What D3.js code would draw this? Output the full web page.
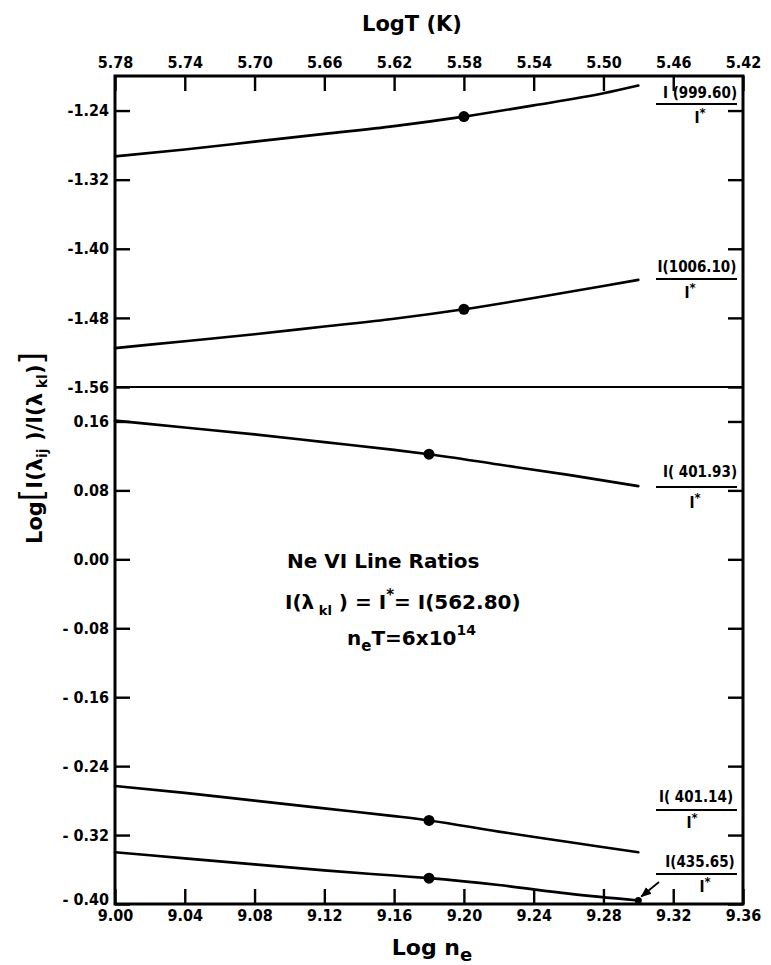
<!DOCTYPE html>
<html><head><meta charset="utf-8">
<script src="https://cdn.jsdelivr.net/npm/d3@7"></script>
<style>body{margin:0;background:#fff}svg{display:block;background:#fff}</style>
</head><body><svg id="c" width="771" height="965"></svg>
<script>
// ---- axis ticks ----
const logNeTicks = [9.00, 9.04, 9.08, 9.12, 9.16, 9.20, 9.24, 9.28, 9.32, 9.36];
const logNeTickLabels = ["9.00","9.04","9.08","9.12","9.16","9.20","9.24","9.28","9.32","9.36"];
const logTTicks = [5.78, 5.74, 5.70, 5.66, 5.62, 5.58, 5.54, 5.50, 5.46, 5.42];
const logTTickLabels = ["5.78","5.74","5.70","5.66","5.62","5.58","5.54","5.50","5.46","5.42"];
const upperTicks = [-1.24, -1.32, -1.40, -1.48, -1.56];
const upperTickLabels = ["-1.24","-1.32","-1.40","-1.48","-1.56"];
const lowerTicks = [0.16, 0.08, 0.00, -0.08, -0.16, -0.24, -0.32, -0.40];
const lowerTickLabels = ["0.16","0.08","0.00","- 0.08","- 0.16","- 0.24","- 0.32","- 0.40"];

// ---- series (log n_e, log ratio) ----
const seriesNames = ["999.60", "1006.10", "401.93", "401.14", "435.65"];
const seriesPanel = ["upper", "upper", "lower", "lower", "lower"];
const logNe999 = [9.00, 9.04, 9.08, 9.12, 9.16, 9.20, 9.24, 9.28, 9.30];
const ratio999 = [-1.293, -1.285, -1.276, -1.267, -1.258, -1.247, -1.234, -1.220, -1.211];
const logNe1006 = [9.00, 9.04, 9.08, 9.12, 9.16, 9.20, 9.24, 9.28, 9.30];
const ratio1006 = [-1.515, -1.507, -1.499, -1.490, -1.481, -1.470, -1.457, -1.443, -1.436];
const logNe40193 = [9.00, 9.04, 9.08, 9.12, 9.16, 9.18, 9.22, 9.26, 9.30];
const ratio40193 = [0.161, 0.153, 0.145, 0.136, 0.127, 0.122, 0.110, 0.098, 0.085];
const logNe40114 = [9.00, 9.04, 9.08, 9.12, 9.16, 9.18, 9.22, 9.26, 9.30];
const ratio40114 = [-0.263, -0.271, -0.280, -0.289, -0.298, -0.303, -0.316, -0.328, -0.340];
const logNe43565 = [9.00, 9.04, 9.08, 9.12, 9.16, 9.18, 9.22, 9.26, 9.30];
const ratio43565 = [-0.340, -0.347, -0.354, -0.361, -0.367, -0.370, -0.378, -0.388, -0.396];
const markerLogNe = [9.20, 9.20, 9.18, 9.18, 9.18];
const markerRatio = [-1.247, -1.470, 0.122, -0.303, -0.370];

const seriesX = [logNe999, logNe1006, logNe40193, logNe40114, logNe43565];
const seriesY = [ratio999, ratio1006, ratio40193, ratio40114, ratio43565];

// ---- layout ----
const L = 115, R = 743, T = 76, B = 904, BRK = 387;
const svg = d3.select("#c");
const FONT = "'DejaVu Sans Condensed','DejaVu Sans',sans-serif";

const x = d3.scaleLinear().domain([9.00, 9.36]).range([L, R]);
const xT = d3.scaleLinear().domain([5.78, 5.42]).range([L, R]);
const yU = d3.scaleLinear().domain([-1.56, -1.20]).range([BRK, T]);
const yL = d3.scaleLinear().domain([-0.40, 0.20]).range([B, BRK]);
const yOf = p => p === "upper" ? yU : yL;

function styleAxis(g) {
  g.select(".domain").remove();
  g.selectAll(".tick line").attr("stroke", "#000").attr("stroke-width", 2.4);
  g.selectAll(".tick text").attr("fill", "#000").attr("font-family", FONT)
    .attr("font-weight", "bold").attr("font-size", 16);
}

// bottom axis
svg.append("g").attr("transform", `translate(0,${B})`)
  .call(d3.axisBottom(x).tickValues(logNeTicks).tickSize(-15).tickPadding(6)
    .tickFormat((d, i) => logNeTickLabels[i]))
  .call(styleAxis);
// top axis
svg.append("g").attr("transform", `translate(0,${T})`)
  .call(d3.axisTop(xT).tickValues(logTTicks).tickSize(-15).tickPadding(8)
    .tickFormat((d, i) => logTTickLabels[i]))
  .call(styleAxis);
// left axes
svg.append("g").attr("transform", `translate(${L},0)`)
  .call(d3.axisLeft(yU).tickValues(upperTicks).tickSize(-15).tickPadding(6)
    .tickFormat((d, i) => upperTickLabels[i]))
  .call(styleAxis);
const gLow = svg.append("g").attr("transform", `translate(${L},0)`)
  .call(d3.axisLeft(yL).tickValues(lowerTicks).tickSize(-15).tickPadding(6)
    .tickFormat((d, i) => lowerTickLabels[i]))
  .call(styleAxis);
// lift the bottom-most label so it clears the x tick labels
gLow.selectAll(".tick text").filter(d => d === -0.40).attr("dy", "0.05em");
// right axes (ticks only)
svg.append("g").attr("transform", `translate(${R},0)`)
  .call(d3.axisRight(yU).tickValues(upperTicks).tickSize(-15).tickFormat(""))
  .call(styleAxis);
svg.append("g").attr("transform", `translate(${R},0)`)
  .call(d3.axisRight(yL).tickValues(lowerTicks).tickSize(-15).tickFormat(""))
  .call(styleAxis);

// frame and panel break
svg.append("rect").attr("x", L).attr("y", T).attr("width", R - L).attr("height", B - T)
  .attr("fill", "none").attr("stroke", "#000").attr("stroke-width", 3);
svg.append("line").attr("x1", L).attr("x2", R).attr("y1", BRK).attr("y2", BRK)
  .attr("stroke", "#000").attr("stroke-width", 2);

// curves
seriesNames.forEach((name, i) => {
  const ys = yOf(seriesPanel[i]);
  const pts = seriesX[i].map((v, j) => [v, seriesY[i][j]]);
  const line = d3.line().x(d => x(d[0])).y(d => ys(d[1])).curve(d3.curveMonotoneX);
  svg.append("path").attr("d", line(pts)).attr("fill", "none")
    .attr("stroke", "#000").attr("stroke-width", 2.6).attr("stroke-linecap", "round");
  svg.append("circle").attr("cx", x(markerLogNe[i])).attr("cy", ys(markerRatio[i]))
    .attr("r", 5.5).attr("fill", "#000");
});
// end dot of 435.65 curve
svg.append("circle").attr("cx", x(logNe43565[logNe43565.length - 1]))
  .attr("cy", yL(ratio43565[ratio43565.length - 1])).attr("r", 3.5).attr("fill", "#000");

// fraction labels on the right
const labelNum = [98, 272, 477, 802, 867];
const labelBar = [104, 279, 487, 810, 874];
const labelDen = [123, 298, 508, 828, 892];
const labelCx = [700, 697, 700, 696, 700];
const denCx = [700, 690, 695, 692, 705];
seriesNames.forEach((name, i) => {
  const num = name === "401.93" || name === "401.14" ? "I( " + name + ")" :
              name === "999.60" ? "I (" + name + ")" : "I(" + name + ")";
  svg.append("text").attr("x", labelCx[i]).attr("y", labelNum[i]).attr("text-anchor", "middle")
    .attr("font-family", FONT).attr("font-weight", "bold").attr("font-size", 15).text(num);
  svg.append("line").attr("x1", 656).attr("x2", 737).attr("y1", labelBar[i]).attr("y2", labelBar[i])
    .attr("stroke", "#000").attr("stroke-width", 2);
  const t = svg.append("text").attr("x", denCx[i]).attr("y", labelDen[i]).attr("text-anchor", "middle")
    .attr("font-family", FONT).attr("font-weight", "bold").attr("font-size", 15);
  t.append("tspan").text("I");
  t.append("tspan").attr("dy", -6).attr("font-size", 13).text("*");
});
// arrow to end of 435.65 curve
svg.append("defs").append("marker").attr("id", "ah").attr("viewBox", "0 0 10 10")
  .attr("refX", 9).attr("refY", 5).attr("markerWidth", 6).attr("markerHeight", 6)
  .attr("orient", "auto").append("path").attr("d", "M0,1 L10,5 L0,9 z").attr("fill", "#000");
svg.append("line").attr("x1", 659).attr("y1", 882)
  .attr("x2", x(logNe43565[logNe43565.length - 1]) + 3).attr("y2", yL(ratio43565[ratio43565.length - 1]) - 4)
  .attr("stroke", "#000").attr("stroke-width", 1.8).attr("marker-end", "url(#ah)");

// axis titles
svg.append("text").attr("x", 412).attr("y", 31).attr("text-anchor", "middle")
  .attr("font-family", "'DejaVu Sans',sans-serif").attr("font-weight", "bold").attr("font-size", 21)
  .text("LogT (K)");
const xt = svg.append("text").attr("x", 432).attr("y", 955).attr("text-anchor", "middle")
  .attr("font-family", "'DejaVu Sans',sans-serif").attr("font-weight", "bold").attr("font-size", 22);
xt.append("tspan").text("Log n");
xt.append("tspan").attr("dy", 6).attr("font-size", 18).text("e");

const yt = svg.append("text").attr("transform", "translate(42,448) rotate(-90)")
  .attr("text-anchor", "middle").attr("font-family", "'DejaVu Sans',sans-serif")
  .attr("font-weight", "bold").attr("font-size", 21);
yt.append("tspan").text("Log");
yt.append("tspan").attr("font-size", 32).attr("font-weight", "normal").text("[");
yt.append("tspan").text("I(λ");
yt.append("tspan").attr("dy", 5).attr("font-size", 14).text("ij");
yt.append("tspan").attr("dy", -5).text(" )/I(λ");
yt.append("tspan").attr("dy", 5).attr("font-size", 14).text(" kl");
yt.append("tspan").attr("dy", -5).text(")");
yt.append("tspan").attr("font-size", 32).attr("font-weight", "normal").text("]");

// central annotation
const cf = "'DejaVu Sans',sans-serif";
svg.append("text").attr("x", 287).attr("y", 568).attr("font-family", cf)
  .attr("font-weight", "bold").attr("font-size", 20).text("Ne VI Line Ratios");
const l2 = svg.append("text").attr("x", 285).attr("y", 609).attr("font-family", cf)
  .attr("font-weight", "bold").attr("font-size", 20);
l2.append("tspan").text("I(λ");
l2.append("tspan").attr("dy", 6).attr("font-size", 13).text(" kl");
l2.append("tspan").attr("dy", -6).text(" ) = I");
l2.append("tspan").attr("dy", -9).attr("font-size", 15).text("*");
l2.append("tspan").attr("dy", 9).text("= I(562.80)");
const l3 = svg.append("text").attr("x", 347).attr("y", 645).attr("font-family", cf)
  .attr("font-weight", "bold").attr("font-size", 20);
l3.append("tspan").text("n");
l3.append("tspan").attr("dy", 6).attr("font-size", 15).text("e");
l3.append("tspan").attr("dy", -6).text("T=6x10");
l3.append("tspan").attr("dy", -10).attr("font-size", 14).text("14");
</script></body></html>
